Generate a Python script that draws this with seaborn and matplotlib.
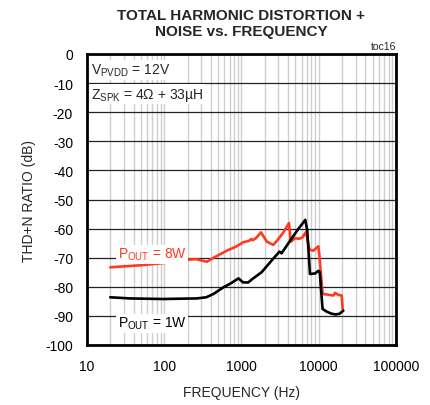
import matplotlib
matplotlib.use("Agg")
import matplotlib.pyplot as plt
import seaborn as sns
import numpy as np
import pandas as pd
from matplotlib.ticker import LogLocator, NullFormatter

sns.set_theme(style="white")
plt.rcParams['font.family'] = ['Liberation Sans', 'DejaVu Sans']
plt.rcParams['axes.unicode_minus'] = False

freq_8w = [20, 50, 100, 195, 260, 355, 450, 645, 850, 1050, 1250, 1340, 1400, 1550, 1790, 2130, 2580, 3000, 3480,
           4120, 4350, 4950, 5600, 6180, 6840, 7550, 8500, 9880, 10170, 11230, 12500, 15500, 16200, 18000, 19800, 20400]
thd_8w = [-73.3, -72.6, -71.8, -70.7, -70.5, -71.4, -69.8, -67.6, -66.2, -64.7, -64.2, -63.6, -64.0, -63.2, -61.3, -64.5, -65.6, -63.6, -61.3,
          -58.1, -64.5, -63.3, -63.5, -63.0, -61.1, -67.2, -67.6, -66.1, -69.1, -82.5, -82.6, -83.0, -82.1, -82.8, -83.0, -87.6]

freq_1w = [20, 36, 60, 97, 150, 263, 350, 431, 582, 750, 913, 1050, 1220, 1420, 1820, 2450, 3100, 3300, 4250,
           5440, 6700, 7100, 7700, 9000, 9880, 10300, 11200, 12600, 14500, 16300, 18500, 20800]
thd_1w = [-83.6, -84.0, -84.1, -84.2, -84.1, -84.0, -83.6, -82.5, -80.2, -78.6, -77.1, -78.5, -78.5, -77.1, -75.0, -71.0, -67.9, -68.5, -64.2,
          -60.1, -57.0, -60.7, -75.6, -75.4, -74.5, -75.0, -87.6, -88.5, -89.2, -89.5, -89.3, -88.2]

df8 = pd.DataFrame({"f": freq_8w, "thd": thd_8w})
df1 = pd.DataFrame({"f": freq_1w, "thd": thd_1w})

fig = plt.figure(figsize=(4.31, 4.06), dpi=100)
ax = fig.add_axes([87/431, 1 - 346/406, (396-87)/431, (346-55)/406])

sns.lineplot(data=df8, x="f", y="thd", ax=ax, color="#ff3a1e", lw=1.9, sort=False, zorder=4)
sns.lineplot(data=df1, x="f", y="thd", ax=ax, color="black", lw=1.9, sort=False, zorder=5)

ax.set_xscale("log")
ax.set_xlim(10, 100000)
ax.set_ylim(-100, 0)
ax.set_yticks(np.arange(-100, 1, 10))
ax.set_xticks([10, 100, 1000, 10000, 100000])
ax.set_xticklabels(["10", "100", "1000", "10000", "100000"])
ax.xaxis.set_minor_locator(LogLocator(base=10, subs=np.arange(2, 10)))
ax.xaxis.set_minor_formatter(NullFormatter())
ax.tick_params(axis="both", which="both", length=0, labelsize=10, colors="black")
ax.tick_params(axis="x", pad=10)
ax.tick_params(axis="y", pad=10)
ax.grid(True, axis="x", which="both", color="#cfcfcf", lw=1.0, zorder=0)
ax.grid(True, axis="y", which="major", color="#222222", lw=0.9, zorder=1)
for s in ax.spines.values():
    s.set_color("black")
    s.set_linewidth(2.0)
ax.set_xlabel("FREQUENCY (Hz)", fontsize=10, labelpad=9)
ax.set_ylabel("THD+N RATIO (dB)", fontsize=10, labelpad=7)

fig.text(241.5/431, 0.94, "TOTAL HARMONIC DISTORTION +\nNOISE vs. FREQUENCY", ha="center", va="center",
         fontsize=11, fontweight="bold", linespacing=1.2)
ax.text(1.0, 1.01, "toc16", transform=ax.transAxes, ha="right", va="bottom", fontsize=7.5)

bbox = dict(facecolor="white", edgecolor="none", pad=1)
ax.text(11.2, -5.5, r"V$_{\mathregular{PVDD}}$ = 12V", fontsize=10, ha="left", va="center", bbox=bbox, zorder=6)
ax.text(11.2, -13.8, r"Z$_{\mathregular{SPK}}$ = 4Ω + 33µH", fontsize=10, ha="left", va="center", bbox=bbox, zorder=6)
ax.text(25, -68.8, r"P$_{\mathregular{OUT}}$ = 8W", fontsize=10, color="#ff3a1e", ha="left", va="center", bbox=bbox, zorder=6)
ax.text(25, -92.5, r"P$_{\mathregular{OUT}}$ = 1W", fontsize=10, color="black", ha="left", va="center", bbox=bbox, zorder=6)

fig.savefig("out.png", dpi=100)
